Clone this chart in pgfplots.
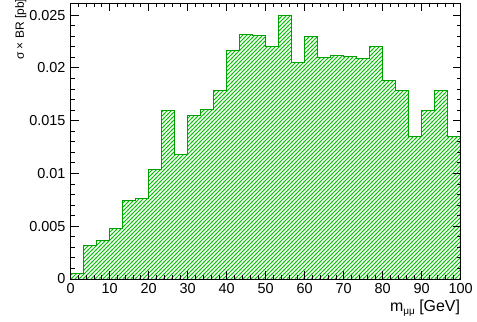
\documentclass[border=0pt]{standalone}
\usepackage{fontspec}
\setmainfont{Liberation Sans}
\usepackage{pgfplots}
\pgfplotsset{compat=1.18}
\usetikzlibrary{patterns}
\definecolor{hline}{RGB}{0,160,0}
\definecolor{hfill}{RGB}{0,190,0}
\pgfdeclarepatterninherentlycolored{rhatch}{\pgfqpoint{-1bp}{-1bp}}{\pgfqpoint{5bp}{5bp}}{\pgfqpoint{4bp}{4bp}}{%
  \pgfsetstrokecolor{hfill}%
  \pgfsetlinewidth{0.8bp}%
  \pgfpathmoveto{\pgfqpoint{-0.5bp}{-0.5bp}}%
  \pgfpathlineto{\pgfqpoint{4.5bp}{4.5bp}}%
  \pgfusepath{stroke}}
\begin{document}
\begin{tikzpicture}
\path[use as bounding box] (-70.7bp,-43bp) rectangle (406.3bp,279bp);
\begin{axis}[
  scale only axis,
  width=390bp, height=276bp,
  xmin=0, xmax=100, ymin=0, ymax=0.02614,
  axis on top,
  axis line style={line width=0.8bp},
  tick style={line width=0.8bp, black},
  tick align=inside,
  xtick pos=both, ytick pos=both,
  xtick={0,10,...,100},
  xticklabels={0,10,20,30,40,50,60,70,80,90,100},
  ytick={0,0.005,0.01,0.015,0.02,0.025},
  yticklabels={0,0.005,0.01,0.015,0.02,0.025},
  scaled y ticks=false,
  minor x tick num=4,
  minor y tick num=4,
  major tick length=8bp,
  minor tick length=4bp,
  ticklabel style={font=\fontsize{14.5}{14.5}\selectfont},
  xticklabel style={inner sep=0pt, yshift=-4bp},
  yticklabel style={inner sep=0pt, xshift=-5bp},
]
\addplot[const plot mark left, draw=hline, line width=1bp,
  pattern=rhatch]
coordinates {
(0,0.0005) (3.333,0.00322) (6.667,0.00369) (10,0.00482) (13.333,0.00741)
(16.667,0.0076) (20,0.01034) (23.333,0.01598) (26.667,0.01176) (30,0.01548)
(33.333,0.01608) (36.667,0.01781) (40,0.02166) (43.333,0.02314) (46.667,0.02305)
(50,0.0220) (53.333,0.0250) (56.667,0.02052) (60,0.02298) (63.333,0.02096)
(66.667,0.02115) (70,0.02109) (73.333,0.0209) (76.667,0.0220) (80,0.01876)
(83.333,0.01787) (86.667,0.01349) (90,0.01598) (93.333,0.01787) (96.667,0.01349)
(100,0.01349)
} \closedcycle;
\end{axis}
\node[rotate=90, anchor=north west, inner sep=0pt,
  font=\fontsize{12}{12}\selectfont] at (-55.7bp,219bp) {σ × BR [pb]};
\node[anchor=base east, inner sep=0pt,
  font=\fontsize{16}{16}\selectfont] at (389.5bp,-32bp) {m\raisebox{-0.4ex}{\fontsize{10}{10}\selectfont μμ} [GeV]};
\end{tikzpicture}
\end{document}
